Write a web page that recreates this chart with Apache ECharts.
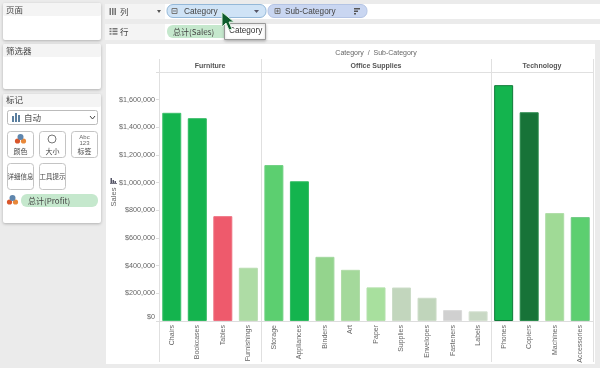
<!DOCTYPE html>
<html>
<head>
<meta charset="utf-8">
<style>html,body{margin:0;padding:0;background:#ebebeb}#main{width:600px;height:368px;filter:blur(0.35px)}</style>
<script src="https://cdn.jsdelivr.net/npm/echarts@6/dist/echarts.min.js"></script>
</head>
<body>
<div id="main"></div>
<script>
var subCategories = ['Chairs','Bookcases','Tables','Furnishings','Storage','Appliances','Binders','Art','Paper','Supplies','Envelopes','Fasteners','Labels','Phones','Copiers','Machines','Accessories'];
var sales = [1505000,1466000,758000,385000,1127000,1010000,464000,370000,243000,242000,168000,79000,70000,1705000,1509000,780000,751000];
var barColors = ['#14b44e','#14b44e','#ee5a6c','#aedca5','#5ccf70','#14b44e','#94d48d','#a4d99b','#a8e09e','#c2d6bd','#c0d5bb','#d0d0d0','#c8d8c4','#14b44e','#177338','#a0da96','#5ccf70'];
var barBorders = ['#3cc06c','#2fb860','#ee7080','#b8dcb0','#6dcf80','#30ba60','#a4d8a0','#b0dca8','#b4e0ac','#ccdcc8','#ccdcc8','#dadada','#d4e0d0','#0e7a38','#2a8a4c','#aedca6','#70c884'];
var facets = ['Furniture','Office Supplies','Technology'];
var facetSizes = [4,9,4];

var gridLeft = 159, gridTop = 72, gridW = 434, gridH = 249;
var catW = gridW / subCategories.length;
var txt = '#666', font = '"Liberation Sans", Arial, sans-serif', cjk = '"Noto Sans CJK SC", sans-serif';

function rect(x, y, w, h, fill, stroke, r, shadow) {
    var style = { fill: fill, stroke: stroke || null, lineWidth: stroke ? 1 : 0 };
    if (shadow) { style.shadowColor = 'rgba(0,0,0,0.25)'; style.shadowBlur = 3; style.shadowOffsetY = 1; }
    return { type: 'rect', shape: { x: x, y: y, width: w, height: h, r: r || 0 }, style: style, silent: true };
}
function label(x, y, text, size, color, align, family, weight) {
    return { type: 'text', x: x, y: y, silent: true, style: {
        text: text, fontSize: size, fill: color || txt, align: align || 'left', verticalAlign: 'middle',
        fontFamily: family || font, fontWeight: weight || 'normal' } };
}
function line(x1, y1, x2, y2, color) {
    return { type: 'line', shape: { x1: x1, y1: y1, x2: x2, y2: y2 }, style: { stroke: color || '#e0e0e0', lineWidth: 1 }, silent: true };
}
function marksIcon(cx, cy) {
    return [
        { type: 'circle', shape: { cx: cx - 3, cy: cy + 2, r: 2.6 }, style: { fill: '#d9562b' }, silent: true },
        { type: 'circle', shape: { cx: cx + 3, cy: cy + 2, r: 2.6 }, style: { fill: '#e8883a' }, silent: true },
        { type: 'circle', shape: { cx: cx, cy: cy - 2, r: 3 }, style: { fill: '#5f86ad' }, silent: true }
    ];
}

var g = [];
// left panels
g.push(rect(3,3,98,37,'#fff',null,2,true), rect(3,3,98,13,'#f4f4f4',null,2), label(6,10,'页面',8.5,'#444','left',cjk));
g.push(rect(3,44,98,45,'#fff',null,2,true), rect(3,44,98,13,'#f4f4f4',null,2), label(6,51,'筛选器',8.5,'#444','left',cjk));
g.push(rect(3,94,98,129,'#fff',null,2,true), rect(3,94,98,13,'#f4f4f4',null,2), label(6,100,'标记',8.5,'#444','left',cjk));
g.push(rect(7.5,110.5,90,14,'#fff','#bbb',2), label(24,118,'自动',8.5,'#444','left',cjk));
g.push(rect(12,116,2,6,'#5b7f9f'), rect(15,113,2,9,'#5b7f9f'), rect(18,115,2,7,'#5b7f9f'));
g.push({ type: 'polyline', shape: { points: [[90,116],[92.5,119],[95,116]] }, style: { stroke: '#444', fill: null, lineWidth: 1 }, silent: true });
[[7.5,131.5,'颜色'],[39.5,131.5,'大小'],[71.5,131.5,'标签'],[7.5,163.5,'详细信息'],[39.5,163.5,'工具提示']].forEach(function (b) {
    g.push(rect(b[0],b[1],26,26,'#fff','#c4c4c4',3));
    g.push(label(b[0]+13,b[1]+(b[2].length > 2 ? 13 : 20),b[2],b[2].length > 2 ? 6.5 : 7,'#444','center',cjk));
});
g = g.concat(marksIcon(20.5,139));
g.push({ type: 'circle', shape: { cx: 52, cy: 139, r: 4 }, style: { fill: '#fff', stroke: '#777', lineWidth: 1 }, silent: true });
g.push(label(84.5,140,'Abc\n123',6,'#666','center'));
g = g.concat(marksIcon(12.5,200));
g.push(rect(21,194,77,13,'#c5e8cd',null,6), label(28,200.5,'总计(Profit)',8,'#444','left',cjk));

// shelves
g.push(rect(105,4,495,15,'#fff'), rect(105,24,495,16,'#fff'));
g.push(rect(105,4,60,15,'#f4f4f4'), rect(105,24,60,16,'#f4f4f4'));
[0,1,2].forEach(function (i) {
    g.push(rect(109.5+i*2.5,8,1.5,7,'#777'));
    g.push(rect(109.5,28+i*2.6,2,1.5,'#777'), rect(112.5,28+i*2.6,5,1.5,'#777'));
});
g.push(label(120,12,'列',8.5,'#444','left',cjk), label(120,32,'行',8.5,'#444','left',cjk));
g.push({ type: 'polygon', shape: { points: [[157,10],[161,10],[159,13]] }, style: { fill: '#555' }, silent: true });
g.push(rect(167,4.5,99,13,'#cfe3f6','#94b8d8',6), label(184,11.5,'Category',8.3,'#444'));
g.push(rect(172,8.5,5,5,'none','#777'), line(173,11,176,11,'#777'));
g.push({ type: 'polygon', shape: { points: [[254,10],[259,10],[256.5,13]] }, style: { fill: '#556' }, silent: true });
g.push(rect(268,4.5,99,13,'#c9d6f1','#b4c4e4',6), label(285,11.5,'Sub-Category',8.2,'#444'));
g.push(rect(275,8.5,5,5,'none','#777'), line(276,11,279,11,'#777'), line(277.5,9.5,277.5,12.5,'#777'));
g.push(rect(354,8,6,1.5,'#555'), rect(354,10.5,4,1.5,'#555'), rect(354,13,2,1.5,'#555'));
g.push(rect(167,25,64,13,'#c5e8cd',null,6), label(173,32,'总计(Sales)',8,'#444','left',cjk));
g.push(rect(224.5,23.5,41,16,'#fff','#999',0,true), label(229,30.5,'Category',8.2,'#333'));
g.push({ type: 'polygon', shape: { points: [[222,12],[222,27],[226,23],[229,30],[232,29],[229,22],[234,22]] },
    style: { fill: '#0d5c2c', stroke: '#d8f0dc', lineWidth: 1 }, silent: true });

// chart header: facet bands are counted off the category axis
g.push(label(376,53,'Category  /  Sub-Category',7,txt,'center'));
g.push(line(gridLeft,72.5,gridLeft+gridW,72.5));
var start = 0;
g.push(line(gridLeft+0.5,59,gridLeft+0.5,362));
facets.forEach(function (f, i) {
    var end = start + facetSizes[i];
    var xs = gridLeft + start*catW, xe = gridLeft + end*catW;
    g.push(label((xs+xe)/2,66,f,7,'#555','center',font,'bold'));
    g.push(line(Math.round(xe)+0.5,59,Math.round(xe)+0.5,362));
    start = end;
});
// axis title and its sort icon
g.push(rect(110.5,178,1.5,5,'#556'), rect(112.5,180,1.5,3,'#556'), rect(114.5,181,1.5,2,'#556'), rect(110,183,7,0.8,'#556'));
g.push({ type: 'text', x: 114, y: 197, rotation: Math.PI/2, silent: true, style: { text: 'Sales', fontSize: 7.5, fill: txt, fontFamily: font, align: 'center', verticalAlign: 'middle' } });

var chart = echarts.init(document.getElementById('main'));
var option = {
    animation: false,
    backgroundColor: '#ebebeb',
    graphic: [
        { type: 'group', z: -1, children: [rect(106,44,489,320,'#fff',null,0)] },
        { type: 'group', children: g }
    ],
    grid: { left: gridLeft, top: gridTop, width: gridW, height: gridH, containLabel: false, outerBoundsMode: 'none' },
    xAxis: {
        type: 'category', data: subCategories,
        axisLine: { lineStyle: { color: '#ddd' } },
        axisTick: { length: 3, lineStyle: { color: '#e4e4e4' } },
        axisLabel: { interval: 0, rotate: 90, fontSize: 7, color: txt, fontFamily: font, margin: 4 }
    },
    yAxis: {
        type: 'value', min: 0, max: 1800000, interval: 200000,
        axisLine: { show: false },
        axisTick: { show: true, length: 3, lineStyle: { color: '#ddd' } },
        splitLine: { show: false },
        axisLabel: {
            fontSize: 7.2, color: txt, fontFamily: font, margin: 4,
            verticalAlignMinLabel: 'bottom',
            formatter: function (v) { return v >= 1800000 ? '' : '$' + v.toLocaleString('en-US'); }
        }
    },
    series: [{
        type: 'bar', barWidth: 19,
        data: sales.map(function (v, i) {
            return { value: v, itemStyle: { color: barColors[i], borderColor: barBorders[i], borderWidth: 1 } };
        })
    }]
};
chart.setOption(option);
</script>
</body>
</html>
